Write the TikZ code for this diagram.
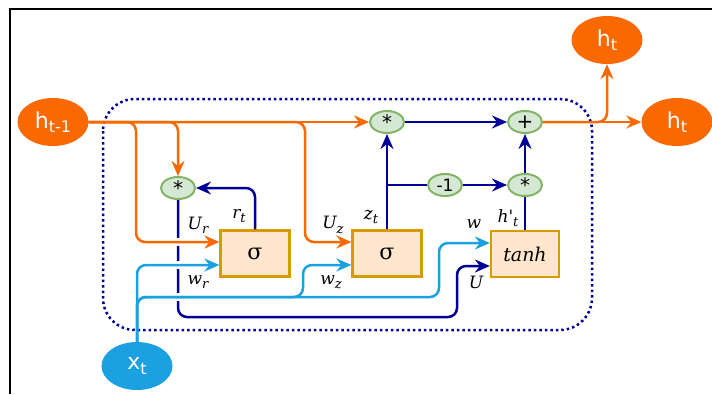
\documentclass[tikz,border=0pt]{standalone}
\usepackage{fontspec}
\setmainfont{DejaVu Sans}
\newfontfamily\serf{DejaVu Serif}
\usetikzlibrary{shapes.geometric,arrows.meta}
\definecolor{org}{HTML}{FA6800}
\definecolor{nav}{HTML}{000099}
\definecolor{lbl}{HTML}{1BA1E2}
\definecolor{gfill}{HTML}{D5E8D4}
\definecolor{gdraw}{HTML}{82B366}
\definecolor{bfill}{HTML}{FFE6CC}
\definecolor{bdraw}{HTML}{D79B00}
\newcommand{\sbx}[1]{\raisebox{-0.25em}{\fontsize{13}{13}\selectfont #1}}
\newcommand{\nsb}[1]{\raisebox{-0.2em}{\fontsize{16}{16}\selectfont #1}}
\begin{document}
\begin{tikzpicture}[x=1pt,y=-1pt,
 bignode/.style={ellipse, fill=org, text=white, minimum width=71pt, minimum height=48pt, inner sep=0pt, font=\fontsize{22}{22}\selectfont},
 op/.style={ellipse, fill=gfill, draw=gdraw, line width=2pt, minimum width=34pt, minimum height=22pt, inner sep=0pt, font=\fontsize{20}{20}\selectfont},
 gate/.style={rectangle, fill=bfill, draw=bdraw, line width=2.2pt, minimum width=69pt, minimum height=46pt, inner sep=0pt},
 arr/.style={-{Stealth[length=15pt,width=13pt,inset=5pt]}},
 conn/.style={line width=2.5pt, rounded corners=9pt},
 lab/.style={font=\serf\itshape\fontsize{17}{17}\selectfont, inner sep=0pt},
 gapw/.style={white, line width=8pt}
]
\useasboundingbox (0,0) rectangle (712,394);
\fill[white] (0,0) rectangle (712,394);
\draw[black,line width=2pt] (10,394) -- (10,9) -- (712,9);
% cell boundary
\draw[nav, line width=2.5pt, dash pattern=on 2.5pt off 3pt, rounded corners=32pt] (103,99) rectangle (592,330);

% nodes
\node[bignode] (hp) at (53,122) {h\nsb{t-1}};
\node[bignode] (h1) at (607,40) {h\nsb{t}};
\node[bignode] (h2) at (677,122) {h\nsb{t}};
\node[bignode, fill=lbl] (xt) at (137,366) {x\nsb{t}};
\node[op] (mr) at (178,188) {*};
\node[op] (mz) at (387,122) {*};
\node[op] (pl) at (525,122) {+};
\node[op, font=\fontsize{17}{17}\selectfont] (ng) at (445,185) {-1};
\node[op] (mh) at (525,185) {*};
\node[gate, font=\serf\fontsize{22}{22}\selectfont] (sr) at (255,253.5) {σ};
\node[gate, font=\serf\fontsize{22}{22}\selectfont] (sz) at (387,253.5) {σ};
\node[gate, minimum width=68pt, font=\serf\itshape\fontsize{19}{19}\selectfont] (th) at (525,254) {tanh};

% navy connectors
\draw[conn,nav,arr] (mz.east) -- (pl.west);
\draw[conn,nav,arr] (sz.north) -- (mz.south);
\coordinate (zb) at (387,185);
\draw[conn,nav] (zb) -- (ng.west);
\draw[conn,nav,arr] (ng.east) -- (mh.west);
\draw[conn,nav,arr] (mh.north) -- (pl.south);
\draw[conn,nav] (th.north) -- (mh.south);
\draw[conn,nav,arr] (sr.north) -- (sr.north |- mr.east) -- (mr.east);
\draw[conn,nav,arr] (mr.south) -- (178,317) -- (457,317) -- (457,266) -- (th.west |- 0,266);
% crossing gaps
\draw[gapw] (172,242) -- (184,242);
\draw[gapw] (172,265) -- (184,265);
\draw[gapw] (172,297) -- (184,297);

% orange connectors
\draw[conn,org,arr] (hp.east) -- (mz.west);
\draw[conn,org,arr] (hp.east) -- (136,122) -- (136,242) -- (sr.west |- 0,242);
\draw[conn,org,arr] (hp.east) -- (178,122) -- (mr.north);
\draw[conn,org,arr] (hp.east) -- (305,122) -- (305,242) -- (sz.west |- 0,242);
\draw[conn,org,arr] (pl.east) -- (h2.west);
\draw[conn,org,arr] (pl.east) -- (607,122) -- (h1.south);

% light blue connectors
\draw[conn,lbl,arr] (xt.north) -- (137,297) -- (439,297) -- (439,243) -- (th.west |- 0,243);
\draw[conn,lbl,arr] (xt.north) -- (137,297) -- (303,297) -- (303,265) -- (sz.west |- 0,265);
\draw[conn,lbl,arr] (xt.north) -- (137,265) -- (sr.west |- 0,265);

% labels
\node[lab] (lur) at (198,225) {U\sbx{r}};
\node[lab] (lrt) at (239,216) {r\sbx{t}};
\node[lab] (lwr) at (198,282) {w\sbx{r}};
\node[lab] (luz) at (333,225) {U\sbx{z}};
\node[lab] (lwz) at (331,282) {w\sbx{z}};
\node[lab] (lzt) at (371,217) {z\sbx{t}};
\node[lab] (lht) at (508,218) {h\textquotesingle\sbx{t}};
\node[lab] (lw) at (474,224) {w};
\node[lab] (lu) at (476,282) {U};
\end{tikzpicture}
\end{document}
